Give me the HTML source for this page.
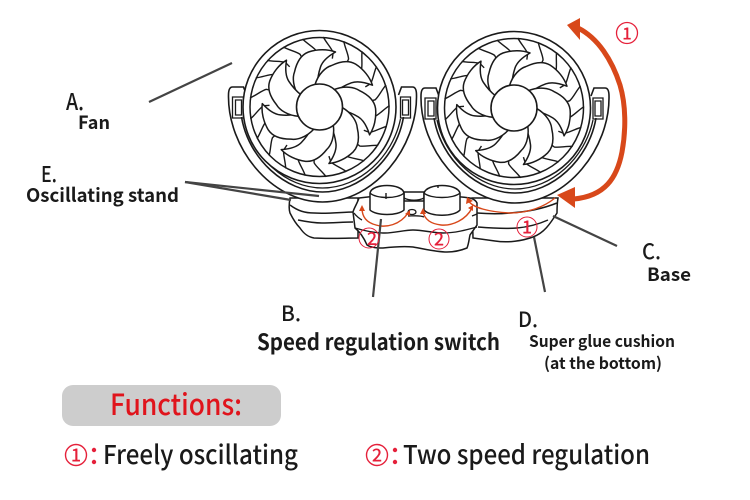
<!DOCTYPE html>
<html><head><meta charset="utf-8"><style>html,body{margin:0;padding:0;background:#fff}svg{display:block}text{font-family:"Noto Sans CJK SC","Liberation Sans",sans-serif}</style></head><body>
<svg width="750" height="500" viewBox="0 0 750 500" xmlns="http://www.w3.org/2000/svg">
<defs>
<path id="blade" d="M-20-10C-27-20-27-30-25-35C-23-44-19-52-11-55C-2-58 8-58 16-55C9-51 3-46 1-40C-1-34-2-28-2-22" fill="#fff" stroke="#1a1a1a" stroke-width="1.5" stroke-linejoin="round"/>
<g id="vanes" fill="none" stroke="#1a1a1a" stroke-width="1.4">
<path d="M-17-68C-12-63-6-60-3-56L-2-50"/>
<path d="M-17-68C-12-63-6-60-3-56L-2-50" transform="rotate(17.14)"/>
<path d="M-17-68C-12-63-6-60-3-56L-2-50" transform="rotate(34.29)"/>
</g>
<g id="fan">
<circle r="76.5" fill="#fff" stroke="#1a1a1a" stroke-width="1.6"/>
<circle r="69.5" fill="none" stroke="#1a1a1a" stroke-width="1.5"/>
<use href="#vanes"/><use href="#vanes" transform="rotate(51.43)"/><use href="#vanes" transform="rotate(102.86)"/><use href="#vanes" transform="rotate(154.29)"/><use href="#vanes" transform="rotate(205.71)"/><use href="#vanes" transform="rotate(257.14)"/><use href="#vanes" transform="rotate(308.57)"/>
<use href="#blade"/><use href="#blade" transform="rotate(51.43)"/><use href="#blade" transform="rotate(102.86)"/><use href="#blade" transform="rotate(154.29)"/><use href="#blade" transform="rotate(205.71)"/><use href="#blade" transform="rotate(257.14)"/><use href="#blade" transform="rotate(308.57)"/>
<circle r="23" fill="#fff" stroke="#1a1a1a" stroke-width="1.6"/>
</g>
<g id="stand" fill="none" stroke="#1a1a1a" stroke-width="1.6">
<path d="M-76-12L-79-20L-90-20C-93-20-94-17-94-12C-95 40-52 95 0 95C52 95 95 40 94-12C94-17 93-20 90-20L79-20L76-12" fill="#fff"/>
<path d="M-90-10H-79V11H-90ZM-87-7H-81V8H-87ZM78-10H88V11H78ZM80-7H86V8H80Z" fill="#fff" stroke-width="1.3"/>
<path d="M-81 10C-74 52-37 85 0 85C37 85 74 52 81 10"/>
<path d="M-78 12C-70 50-37 81 0 81C37 81 70 50 78 12" stroke-width="1.3"/>
</g>
</defs>

<!-- base lobes -->
<g fill="#fff" stroke="#1a1a1a" stroke-width="1.5">
<path d="M290 198C289 204 289 210 290 213C293 219 296 224 300 228C304 234 308 237 314 238C330 239 345 238 358 238L358 198Z"/>
<path d="M558 198C557 204 557 209 557 213C550 224 544 233 533 237C522 241 508 243 495 241L473 238L472 198Z"/>
</g>
<g fill="none" stroke="#1a1a1a" stroke-width="1.5">
<path d="M290 205C298 211 305 213 314 213C328 214 342 212 355 212"/>
<path d="M298 220C308 222 315 223 322 223C332 223 344 222 353 222"/>
<path d="M477 213C490 214 500 214 510 213C526 212 542 209 557 203"/>
<path d="M478 227C490 228 505 229 517 228C528 227 539 224 548 220"/>
</g>
<!-- centre base -->
<path d="M359 198C357 204 354 208 353 212L355 228C360 232 364 238 367 245C372 248 378 248 383 248C392 247 403 246 413 247C425 249 436 252 447 252C455 252 462 250 467 248C469 243 469 239 470 235L477 225V203C476 201 474 199 470 198C440 194 390 194 359 198Z" fill="#fff" stroke="#1a1a1a" stroke-width="1.5"/>
<path d="M355 228C365 231 375 233 385 233C395 233 404 230 413 230C423 230 433 233 443 233C455 233 466 230 477 227" fill="none" stroke="#1a1a1a" stroke-width="1.4"/>
<path d="M354 213C356 216 360 219 362 220M408 216C412 216 420 215 424 217M472 216L477 214" fill="none" stroke="#1a1a1a" stroke-width="1.3"/>

<!-- stands and fans -->
<use href="#stand" transform="translate(322.5,107)"/>
<use href="#stand" transform="translate(515,108)"/>
<use href="#fan" transform="translate(319.5,107)"/>
<use href="#fan" transform="translate(514,108)"/>

<!-- knobs -->
<g fill="#fff" stroke="#1a1a1a" stroke-width="1.5">
<path d="M404 192H424V201H404Z"/>
<path d="M370 193C372 183 402 183 404 193V210C398 216 376 216 370 210Z"/>
<path d="M424 193C427 183 457 183 460 193V210C454 217 430 217 424 210Z"/>
</g>
<path d="M370 193C376 199 398 199 404 193M424 193C430 199 454 199 460 193M386 193V199M438 185V188M404 198C410 201 418 201 424 198" fill="none" stroke="#1a1a1a" stroke-width="1.4"/>
<ellipse cx="412" cy="212" rx="4" ry="2.5" fill="#fff" stroke="#1a1a1a" stroke-width="1.3"/>

<!-- thin orange arrows -->
<g fill="none" stroke="#d8481a" stroke-width="1.4">
<path d="M362 208C362 218 368 223 376 225C386 228 400 225 408 213"/>
<path d="M423 212C425 220 432 224 441 225C452 226 466 220 472 208"/>
<path d="M468 200C472 208 490 212 510 213C528 213 544 207 555 198"/>
</g>
<g fill="#d8481a">
<path d="M362 205L359 211H365Z"/><path d="M423 208L420 214H426Z"/><path d="M467 197L466 204L473 201Z"/><path d="M473 205L468 208L473 211Z"/><path d="M410 210L405 214L410 216Z"/>
</g>

<!-- big orange arrow -->
<path d="M578 28C598 38 612 60 620 85C626 105 626 130 622 152C617 178 605 196 574 199" fill="none" stroke="#d8481a" stroke-width="5"/>
<path d="M567 25L580 18L580 40Z" fill="#d8481a"/>
<path d="M557 195L575 187L575 208Z" fill="#d8481a"/>

<!-- leader lines -->
<g stroke="#444" stroke-width="2.2" fill="none">
<path d="M149 102L232 63"/>
<path d="M185 182L319 196"/>
<path d="M185 182L291 200"/>
<path d="M381 219L373 297"/>
<path d="M534 237L545 292"/>
<path d="M553 216L617 246"/>
</g>

<!-- red circled numbers -->
<g fill="none" stroke="#e5203a" stroke-width="1">
<circle cx="627" cy="33" r="10.5" stroke-width="1.3"/>
<circle cx="369" cy="238" r="10"/>
<circle cx="439" cy="239" r="10"/>
<circle cx="527" cy="227" r="10"/>
</g>
<g fill="#e5203a" text-anchor="middle" font-weight="500">
<text x="627" y="39.5" font-size="17">1</text>
<text x="372" y="245" font-size="18">2</text>
<text x="439" y="245.5" font-size="18">2</text>
<text x="527" y="233.5" font-size="18">1</text>
</g>

<!-- labels -->
<g fill="#1a1a1a">
<text x="66" y="110" font-size="23" font-weight="500" textLength="18" lengthAdjust="spacingAndGlyphs">A.</text>
<text x="78" y="129" font-size="18" font-weight="bold" textLength="32" lengthAdjust="spacingAndGlyphs">Fan</text>
<text x="41" y="182" font-size="22" font-weight="500" textLength="16" lengthAdjust="spacingAndGlyphs">E.</text>
<text x="26" y="202" font-size="19" font-weight="bold" textLength="153" lengthAdjust="spacingAndGlyphs">Oscillating stand</text>
<text x="281" y="321" font-size="21" font-weight="500" textLength="20" lengthAdjust="spacingAndGlyphs">B.</text>
<text x="257" y="350" font-size="22" font-weight="bold" textLength="243" lengthAdjust="spacingAndGlyphs">Speed regulation switch</text>
<text x="518" y="327" font-size="21" font-weight="500" textLength="20" lengthAdjust="spacingAndGlyphs">D.</text>
<text x="529" y="347" font-size="16" font-weight="bold" textLength="146" lengthAdjust="spacingAndGlyphs">Super glue cushion</text>
<text x="544" y="369" font-size="16" font-weight="bold" textLength="118" lengthAdjust="spacingAndGlyphs">(at the bottom)</text>
<text x="642" y="259" font-size="21" font-weight="500" textLength="19" lengthAdjust="spacingAndGlyphs">C.</text>
<text x="647" y="281" font-size="18" font-weight="bold" textLength="44" lengthAdjust="spacingAndGlyphs">Base</text>
</g>

<!-- functions -->
<rect x="62" y="385" width="219" height="41" rx="11" fill="#cdcdcd"/>
<text x="110" y="415" font-size="29" font-weight="500" fill="#e0141c" textLength="132" lengthAdjust="spacingAndGlyphs">Functions:</text>

<g fill="none" stroke="#e5203a" stroke-width="1.4">
<circle cx="76" cy="455" r="10.5"/>
<circle cx="377" cy="455" r="10.5"/>
</g>
<g fill="#e5203a" text-anchor="middle" font-size="18" font-weight="500">
<text x="76" y="461.5">1</text>
<text x="377" y="461.5">2</text>
</g>
<g fill="#e5203a">
<circle cx="94" cy="450" r="2.2"/><circle cx="94" cy="462" r="2.2"/>
<circle cx="395" cy="450" r="2.2"/><circle cx="395" cy="462" r="2.2"/>
</g>
<g fill="#1a1a1a" font-size="26" font-weight="500">
<text x="103" y="464" textLength="195" lengthAdjust="spacingAndGlyphs">Freely oscillating</text>
<text x="403" y="464" textLength="247" lengthAdjust="spacingAndGlyphs">Two speed regulation</text>
</g>
</svg>
</body></html>
